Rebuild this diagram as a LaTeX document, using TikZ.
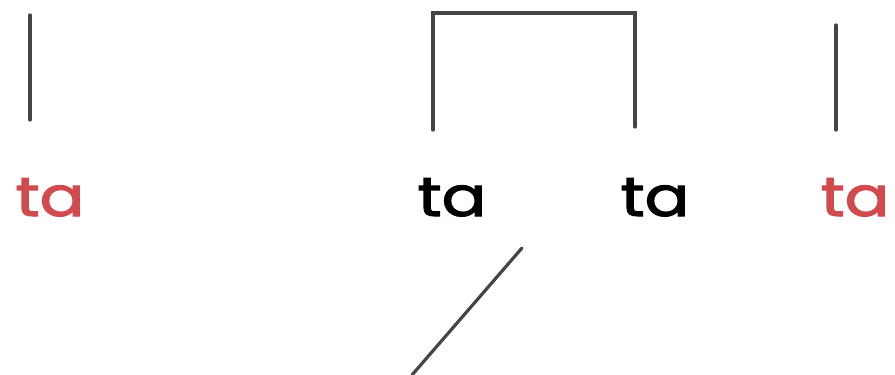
\documentclass[tikz,border=0pt]{standalone}
\usepackage{graphicx}
\usepackage{fontspec}
\setmainfont{Poppins}
\newfontfamily\sylfont{Poppins}[BoldFont=Poppins,BoldFeatures={FakeBold=2}]
\definecolor{tared}{HTML}{D04A4E}
\definecolor{linegray}{HTML}{454545}
\newcommand{\syltext}{\scalebox{1.2}[1]{ta}}
\begin{document}
\begin{tikzpicture}[x=1pt,y=-1pt,
  syl/.style={inner sep=0pt,font=\sylfont\fontsize{55}{55}\selectfont\bfseries,anchor=base},
  redsyl/.style={syl,text=tared},
  blksyl/.style={syl,text=black},
  ln/.style={draw=linegray,line width=3.2pt,line cap=round,line join=miter}]
\useasboundingbox (0,0) rectangle (895,375);
\node[redsyl] (t1) at (50,216) {\syltext};
\node[blksyl] (t2) at (452,216) {\syltext};
\node[blksyl] (t3) at (655,216) {\syltext};
\node[redsyl] (t4) at (855,216) {\syltext};
\coordinate (a1) at (30,15);
\coordinate (a2) at (30,120);
\coordinate (b1) at (433,130);
\coordinate (b2) at (433,13);
\coordinate (b3) at (635,13);
\coordinate (b4) at (635,127);
\coordinate (c1) at (836,25);
\coordinate (c2) at (836,130);
\coordinate (d1) at (522,248);
\coordinate (d2) at (412,375);
\draw[ln] (a1) -- (a2);
\draw[ln] (b1) -- (b2) -- (b3) -- (b4);
\draw[ln] (c1) -- (c2);
\draw[ln] (d1) -- (d2);
\end{tikzpicture}
\end{document}
